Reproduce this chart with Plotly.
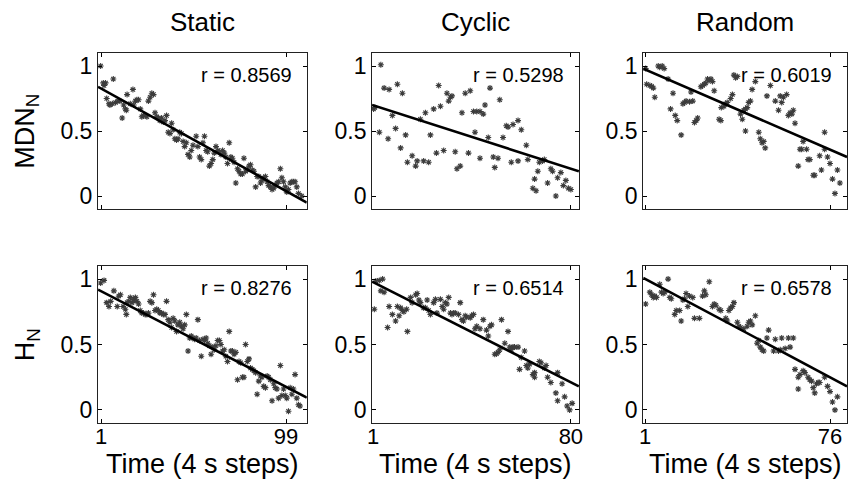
import plotly.graph_objects as go

# ---------------- data ----------------
col_titles = ["Static", "Cyclic", "Random"]
row_titles = ["MDN<sub>N</sub>", "H<sub>N</sub>"]
x_title = "Time (4 s steps)"
x_last_tick = [99, 80, 76]
x_ranges = [[-0.6, 110], [0.6, 83.2], [0.2, 82.9]]
y_ticks = [0, 0.5, 1]
y_tick_text = ["0", "0.5", "1"]
r_values = [["r = 0.8569", "r = 0.5298", "r = 0.6019"],
            ["r = 0.8276", "r = 0.6514", "r = 0.6578"]]

static_mdn_x = [0.8, 2.2, 2.6, 3.4, 4.0, 5.2, 5.7, 7.0, 7.5, 8.7,
                9.9, 11.0, 12.2, 13.0, 13.9, 14.4, 14.8, 16.5, 17.9, 18.3,
                19.2, 20.0, 20.9, 21.8, 22.6, 23.5, 24.4, 25.3, 26.1, 27.0,
                27.9, 28.8, 29.6, 30.5, 31.4, 32.2, 33.1, 34.0, 34.9, 35.7,
                36.6, 37.5, 38.4, 39.2, 40.1, 41.0, 41.8, 42.7, 43.6, 44.5,
                45.3, 46.2, 47.1, 48.0, 48.8, 49.7, 51.4, 52.3, 53.2, 54.1,
                55.0, 55.8, 56.7, 57.5, 58.4, 59.3, 60.2, 61.0, 61.9, 62.8,
                63.7, 64.5, 65.4, 66.3, 67.1, 68.0, 68.9, 69.8, 70.6, 71.5,
                72.4, 73.3, 74.1, 75.0, 75.9, 76.7, 77.6, 78.5, 79.4, 80.2,
                81.1, 82.0, 82.9, 83.7, 84.6, 85.5, 86.3, 87.2, 88.1, 89.0,
                89.8, 90.7, 91.6, 92.5, 93.3, 94.2, 95.1, 96.0, 96.8, 97.7,
                98.6, 99.4, 100.3, 101.2, 102.1, 102.9, 103.8, 104.7, 105.6, 107.3]
static_mdn_y = [1.00, 0.87, 0.85, 0.87, 0.75, 0.71, 0.70, 0.71, 0.90, 0.72,
                0.73, 0.73, 0.60, 0.70, 0.67, 0.66, 0.78, 0.71, 0.82, 0.70,
                0.73, 0.74, 0.74, 0.67, 0.61, 0.62, 0.62, 0.61, 0.73, 0.76,
                0.79, 0.78, 0.64, 0.61, 0.60, 0.58, 0.60, 0.57, 0.58, 0.62,
                0.49, 0.48, 0.56, 0.51, 0.44, 0.43, 0.44, 0.49, 0.48, 0.42,
                0.38, 0.41, 0.32, 0.30, 0.35, 0.39, 0.46, 0.38, 0.30, 0.28,
                0.41, 0.46, 0.35, 0.34, 0.23, 0.25, 0.28, 0.33, 0.38, 0.35,
                0.34, 0.32, 0.35, 0.33, 0.30, 0.25, 0.41, 0.30, 0.29, 0.26,
                0.10, 0.21, 0.19, 0.17, 0.17, 0.29, 0.19, 0.20, 0.23, 0.24,
                0.20, 0.19, 0.07, 0.15, 0.15, 0.10, 0.12, 0.14, 0.15, 0.11,
                0.08, 0.07, 0.05, 0.06, 0.08, 0.10, 0.11, 0.21, 0.14, 0.11,
                0.07, 0.03, 0.05, 0.10, 0.11, 0.11, 0.11, 0.07, 0.02, 0.00]

cyclic_mdn_x = [1.2, 1.7, 3.5, 4.1, 5.4, 7.0, 7.4, 8.7, 10.0, 10.7,
                12.0, 12.7, 14.0, 14.7, 16.6, 18.0, 18.6, 19.9, 21.2, 21.9,
                23.2, 23.9, 25.2, 26.3, 27.2, 27.9, 29.2, 30.5, 31.2, 31.9,
                32.5, 33.8, 34.5, 35.8, 36.5, 37.8, 39.1, 39.8, 41.1, 41.7,
                42.4, 43.7, 43.7, 45.0, 45.7, 47.0, 47.7, 49.0, 49.6, 50.9,
                51.6, 52.9, 54.2, 54.9, 56.2, 56.9, 58.9, 58.9, 60.2, 62.2,
                62.8, 64.8, 65.5, 66.1, 66.8, 67.4, 68.7, 69.4, 70.7, 72.0,
                72.7, 74.0, 74.7, 76.0, 77.0, 78.0, 79.0, 80.0]
cyclic_mdn_y = [0.67, 0.68, 0.49, 1.01, 0.83, 0.44, 0.82, 0.62, 0.52, 0.86,
                0.37, 0.79, 0.47, 0.26, 0.31, 0.23, 0.27, 0.59, 0.27, 0.64,
                0.26, 0.47, 0.67, 0.33, 0.85, 0.69, 0.35, 0.79, 0.73, 0.76,
                0.77, 0.34, 0.21, 0.23, 0.64, 0.79, 0.33, 0.81, 0.65, 0.49,
                0.65, 0.65, 0.29, 0.63, 0.70, 0.45, 0.83, 0.30, 0.22, 0.29,
                0.74, 0.45, 0.54, 0.53, 0.26, 0.55, 0.58, 0.27, 0.51, 0.39,
                0.28, 0.06, 0.13, 0.04, 0.19, 0.26, 0.27, 0.28, 0.10, 0.21,
                0.19, 0.00, 0.14, 0.18, 0.08, 0.12, 0.06, 0.05]

random_mdn_x = [1.2, 1.6, 2.9, 3.6, 4.3, 4.9, 6.3, 6.9, 7.9, 8.7,
                10.3, 11.3, 12.3, 13.2, 14.0, 15.6, 16.3, 17.0, 17.6, 19.0,
                19.6, 20.3, 21.0, 21.7, 22.3, 23.6, 24.3, 25.0, 25.6, 26.3,
                27.0, 27.7, 28.3, 29.0, 31.0, 31.7, 31.9, 33.0, 33.7, 34.3,
                35.7, 36.4, 37.0, 37.7, 38.4, 39.7, 40.4, 41.0, 41.7, 41.7,
                42.4, 43.0, 43.7, 44.4, 45.7, 47.1, 47.7, 48.4, 49.1, 49.7,
                50.4, 51.8, 53.8, 55.1, 55.8, 56.4, 57.1, 58.4, 59.1, 59.8,
                60.5, 61.1, 61.8, 63.1, 63.8, 64.5, 65.1, 66.5, 67.1, 67.8,
                69.2, 69.8, 71.8, 72.5, 73.8, 73.8, 75.0, 76.0, 77.0, 78.0,
                79.0, 80.0]
random_mdn_y = [0.98, 0.86, 0.85, 0.845, 0.83, 0.76, 1.00, 0.99, 1.00, 0.98,
                0.90, 0.67, 0.79, 0.62, 0.58, 0.47, 0.71, 0.72, 0.73, 0.725,
                0.80, 0.73, 0.565, 0.58, 0.60, 0.84, 0.85, 0.86, 0.87, 0.90,
                0.89, 0.90, 0.88, 0.81, 0.59, 0.58, 0.68, 0.69, 0.71, 0.72,
                0.75, 0.78, 0.93, 0.91, 0.92, 0.63, 0.59, 0.66, 0.50, 0.67,
                0.68, 0.72, 0.73, 0.82, 0.88, 0.49, 0.44, 0.41, 0.42, 0.37,
                0.77, 0.85, 0.73, 0.66, 0.77, 0.72, 0.76, 0.78, 0.62, 0.64,
                0.63, 0.66, 0.56, 0.23, 0.36, 0.36, 0.42, 0.36, 0.28, 0.28,
                0.16, 0.16, 0.31, 0.20, 0.49, 0.36, 0.30, 0.25, 0.13, 0.02,
                0.20, 0.10]

static_h_x = [0.8, 2.6, 4.0, 5.2, 6.1, 7.8, 9.6, 10.4, 11.3, 12.7,
              13.9, 14.4, 14.8, 15.7, 16.5, 17.4, 18.3, 19.2, 20.0, 20.9,
              21.8, 22.6, 23.5, 24.4, 25.3, 26.1, 27.0, 27.9, 28.8, 29.6,
              30.5, 31.4, 32.2, 33.1, 34.0, 34.9, 35.7, 36.6, 37.5, 38.4,
              39.2, 40.1, 41.0, 41.8, 42.7, 43.6, 44.5, 45.3, 46.2, 47.1,
              48.0, 48.8, 49.7, 50.6, 51.4, 52.3, 53.2, 54.1, 55.0, 55.8,
              56.7, 57.5, 58.4, 59.3, 60.2, 61.0, 61.9, 62.8, 63.7, 64.5,
              65.4, 66.3, 67.1, 68.0, 68.9, 69.8, 70.6, 71.5, 72.4, 73.3,
              74.1, 75.0, 75.9, 76.7, 77.6, 78.5, 79.4, 80.2, 81.1, 82.0,
              82.9, 83.7, 84.6, 85.5, 86.3, 87.2, 88.1, 89.0, 89.8, 90.7,
              91.6, 92.5, 93.3, 94.2, 95.1, 96.0, 96.8, 97.7, 98.6, 99.4,
              100.3, 101.2, 102.1, 102.9, 103.8, 104.7, 105.6, 106.4]
static_h_y = [0.97, 0.99, 0.82, 0.79, 0.83, 0.91, 0.79, 0.87, 0.88, 0.79,
              0.77, 0.73, 0.82, 0.83, 0.86, 0.82, 0.845, 0.86, 0.83, 0.81,
              0.76, 0.74, 0.74, 0.73, 0.73, 0.74, 0.83, 0.82, 0.88, 0.76,
              0.77, 0.76, 0.74, 0.74, 0.73, 0.73, 0.83, 0.69, 0.67, 0.63,
              0.70, 0.68, 0.60, 0.65, 0.67, 0.64, 0.62, 0.65, 0.73, 0.45,
              0.55, 0.565, 0.55, 0.54, 0.55, 0.69, 0.53, 0.41, 0.54, 0.53,
              0.55, 0.51, 0.49, 0.425, 0.48, 0.46, 0.49, 0.53, 0.53, 0.50,
              0.45, 0.46, 0.41, 0.37, 0.60, 0.45, 0.45, 0.425, 0.44, 0.23,
              0.37, 0.36, 0.25, 0.25, 0.50, 0.37, 0.39, 0.32, 0.31, 0.30,
              0.285, 0.12, 0.22, 0.26, 0.25, 0.18, 0.17, 0.26, 0.25, 0.23,
              0.07, 0.20, 0.17, 0.16, 0.09, 0.34, 0.11, 0.16, 0.11, 0.09,
              -0.01, 0.17, 0.12, 0.16, 0.27, 0.09, 0.04, 0.03]

cyclic_h_x = [1.5, 2.1, 3.5, 4.1, 4.8, 5.4, 6.8, 7.4, 8.7, 10.0,
              10.7, 11.4, 12.0, 12.7, 13.3, 14.4, 14.7, 16.0, 16.6, 18.0,
              18.6, 19.3, 19.9, 21.2, 21.9, 22.6, 23.2, 23.9, 25.2, 25.9,
              26.5, 27.9, 28.6, 29.2, 29.9, 30.5, 31.2, 31.9, 32.5, 33.2,
              33.8, 35.1, 35.8, 36.5, 37.1, 37.8, 38.4, 39.8, 40.4, 41.1,
              41.7, 42.4, 43.7, 45.0, 46.3, 47.0, 47.7, 48.3, 49.6, 50.3,
              50.9, 51.6, 52.3, 53.6, 54.9, 55.6, 56.2, 56.9, 57.5, 58.9,
              59.5, 60.2, 61.5, 62.2, 62.8, 63.5, 64.8, 65.5, 65.5, 67.4,
              68.1, 69.4, 70.1, 70.7, 72.0, 74.0, 74.7, 74.7, 76.5, 77.5,
              78.5, 79.5, 80.5]
cyclic_h_y = [0.77, 0.985, 0.99, 0.91, 1.00, 0.90, 0.63, 0.79, 0.73, 0.68,
              0.79, 0.72, 0.78, 0.76, 0.75, 0.77, 0.60, 0.86, 0.82, 0.88,
              0.89, 0.84, 0.82, 0.78, 0.78, 0.84, 0.76, 0.73, 0.82, 0.845,
              0.74, 0.845, 0.79, 0.77, 0.82, 0.81, 0.86, 0.74, 0.73, 0.74,
              0.74, 0.73, 0.82, 0.69, 0.68, 0.72, 0.71, 0.705, 0.72, 0.73,
              0.62, 0.64, 0.62, 0.69, 0.61, 0.565, 0.64, 0.65, 0.425, 0.43,
              0.44, 0.46, 0.69, 0.51, 0.60, 0.48, 0.46, 0.48, 0.48, 0.48,
              0.31, 0.40, 0.45, 0.34, 0.32, 0.35, 0.27, 0.25, 0.285, 0.37,
              0.36, 0.32, 0.34, 0.25, 0.21, 0.13, 0.07, 0.285, 0.20, 0.10,
              0.03, 0.00, 0.05]

random_h_x = [1.2, 2.9, 3.6, 4.3, 4.9, 5.6, 6.9, 7.6, 8.3, 9.0,
              10.3, 11.0, 11.6, 13.0, 13.6, 15.0, 15.6, 16.3, 17.0, 17.6,
              18.3, 19.0, 20.3, 21.0, 23.0, 24.3, 25.0, 25.6, 27.0, 28.3,
              29.0, 29.7, 31.0, 31.7, 33.7, 34.3, 35.0, 35.7, 36.4, 37.0,
              38.4, 39.0, 39.7, 41.0, 42.4, 43.0, 43.7, 44.4, 45.7, 46.4,
              47.1, 47.7, 48.4, 49.1, 50.4, 51.1, 53.1, 53.8, 55.1, 55.8,
              56.4, 57.8, 59.1, 59.8, 61.1, 61.8, 63.1, 63.1, 63.8, 65.1,
              65.8, 67.1, 67.8, 68.5, 69.2, 69.8, 70.5, 71.2, 71.8, 73.8,
              75.0, 76.0, 77.0, 78.0, 79.0]
random_h_y = [0.81, 0.90, 0.88, 0.86, 0.87, 0.86, 0.96, 0.90, 0.89, 0.90,
              1.00, 0.86, 0.85, 0.73, 0.76, 0.76, 0.68, 0.84, 0.85, 0.89,
              0.79, 0.87, 0.86, 0.70, 0.70, 0.87, 0.91, 0.88, 0.98, 0.79,
              0.81, 0.80, 0.77, 0.76, 0.70, 0.68, 0.76, 0.78, 0.79, 0.82,
              0.67, 0.64, 0.63, 0.62, 0.64, 0.67, 0.68, 0.65, 0.72, 0.51,
              0.53, 0.48, 0.46, 0.45, 0.55, 0.61, 0.45, 0.54, 0.45, 0.46,
              0.55, 0.47, 0.55, 0.48, 0.55, 0.31, 0.25, 0.16, 0.27, 0.30,
              0.285, 0.25, 0.23, 0.22, 0.17, 0.13, 0.20, 0.21, 0.21, 0.25,
              0.18, 0.14, 0.06, 0.00, 0.10]

# regression lines (end points)
fit_static_mdn = ([-0.6, 110], [0.84, -0.05])
fit_cyclic_mdn = ([0.6, 83.2], [0.70, 0.19])
fit_random_mdn = ([0.2, 82.9], [0.98, 0.30])
fit_static_h = ([-0.6, 110], [0.92, 0.094])
fit_cyclic_h = ([0.6, 83.2], [0.98, 0.18])
fit_random_h = ([0.2, 82.9], [1.01, 0.18])

# ---------------- layout ----------------
W, H = 853, 482
FONT = "Liberation Sans, Arial, Helvetica, sans-serif"
col_px = [(94, 305), (371, 580), (645, 851)]
row_px = [(53, 209), (266, 423)]

panels = [
    [(static_mdn_x, static_mdn_y, fit_static_mdn),
     (cyclic_mdn_x, cyclic_mdn_y, fit_cyclic_mdn),
     (random_mdn_x, random_mdn_y, fit_random_mdn)],
    [(static_h_x, static_h_y, fit_static_h),
     (cyclic_h_x, cyclic_h_y, fit_cyclic_h),
     (random_h_x, random_h_y, fit_random_h)],
]

fig = go.Figure()
layout = {}
annotations = []
n = 0
for r in range(2):
    for c in range(3):
        n += 1
        xs, ys, fit = panels[r][c]
        xa = "x" if n == 1 else f"x{n}"
        ya = "y" if n == 1 else f"y{n}"
        fig.add_trace(go.Scatter(
            x=xs, y=ys, mode="markers", xaxis=xa, yaxis=ya,
            marker=dict(symbol="asterisk-open", size=5, color="#3c3c3c",
                        line=dict(width=1.1, color="#3c3c3c")),
            showlegend=False, hoverinfo="skip"))
        fig.add_trace(go.Scatter(
            x=fit[0], y=fit[1], mode="lines", xaxis=xa, yaxis=ya,
            line=dict(color="black", width=2.6),
            showlegend=False, hoverinfo="skip"))
        x0, x1 = col_px[c]
        y0, y1 = row_px[r]
        layout["xaxis" if n == 1 else f"xaxis{n}"] = dict(
            domain=[x0 / W, x1 / W], range=x_ranges[c], anchor=ya,
            tickvals=[1, x_last_tick[c]],
            ticktext=["1", str(x_last_tick[c])],
            showticklabels=(r == 1), ticks="inside", ticklen=4,
            tickcolor="black", mirror="ticks", showline=True,
            linecolor="#222", linewidth=1, showgrid=False, zeroline=False,
            ticklabelstandoff=-6,
            tickfont=dict(size=22, family=FONT, color="black"))
        layout["yaxis" if n == 1 else f"yaxis{n}"] = dict(
            domain=[1 - y1 / H, 1 - y0 / H], range=[-0.1, 1.1], anchor=xa,
            tickvals=y_ticks, ticktext=y_tick_text, ticks="inside",
            ticklen=4, tickcolor="black", mirror="ticks", showline=True,
            linecolor="#222", linewidth=1, showgrid=False, zeroline=False,
            tickfont=dict(size=23, family=FONT, color="black"))
        annotations.append(dict(
            text=r_values[r][c], xref="paper", yref="paper",
            x=(x1 - 13) / W, y=1 - (y0 + 22) / H,
            xanchor="right", yanchor="middle", showarrow=False,
            font=dict(size=20, family=FONT, color="black")))

for c in range(3):
    cx = (col_px[c][0] + col_px[c][1]) / 2
    annotations.append(dict(
        text=col_titles[c], xref="paper", yref="paper",
        x=cx / W, y=1 - 22 / H, xanchor="center", yanchor="middle",
        showarrow=False, font=dict(size=26, family=FONT, color="black")))
    annotations.append(dict(
        text=x_title, xref="paper", yref="paper",
        x=cx / W, y=1 - 464 / H, xanchor="center", yanchor="middle",
        showarrow=False, font=dict(size=27, family=FONT, color="black")))

for r in range(2):
    cy = (row_px[r][0] + row_px[r][1]) / 2
    annotations.append(dict(
        text=row_titles[r], xref="paper", yref="paper",
        x=22 / W, y=1 - cy / H, xanchor="center", yanchor="middle",
        textangle=-90, showarrow=False,
        font=dict(size=27, family=FONT, color="black")))

fig.update_layout(
    width=W, height=H, margin=dict(l=0, r=0, t=0, b=0),
    paper_bgcolor="white", plot_bgcolor="white",
    annotations=annotations, **layout)

fig.write_html(
    "out.html",
    config={"displayModeBar": False, "staticPlot": True},
    post_script="document.body.style.margin='0';document.body.style.padding='0';")
